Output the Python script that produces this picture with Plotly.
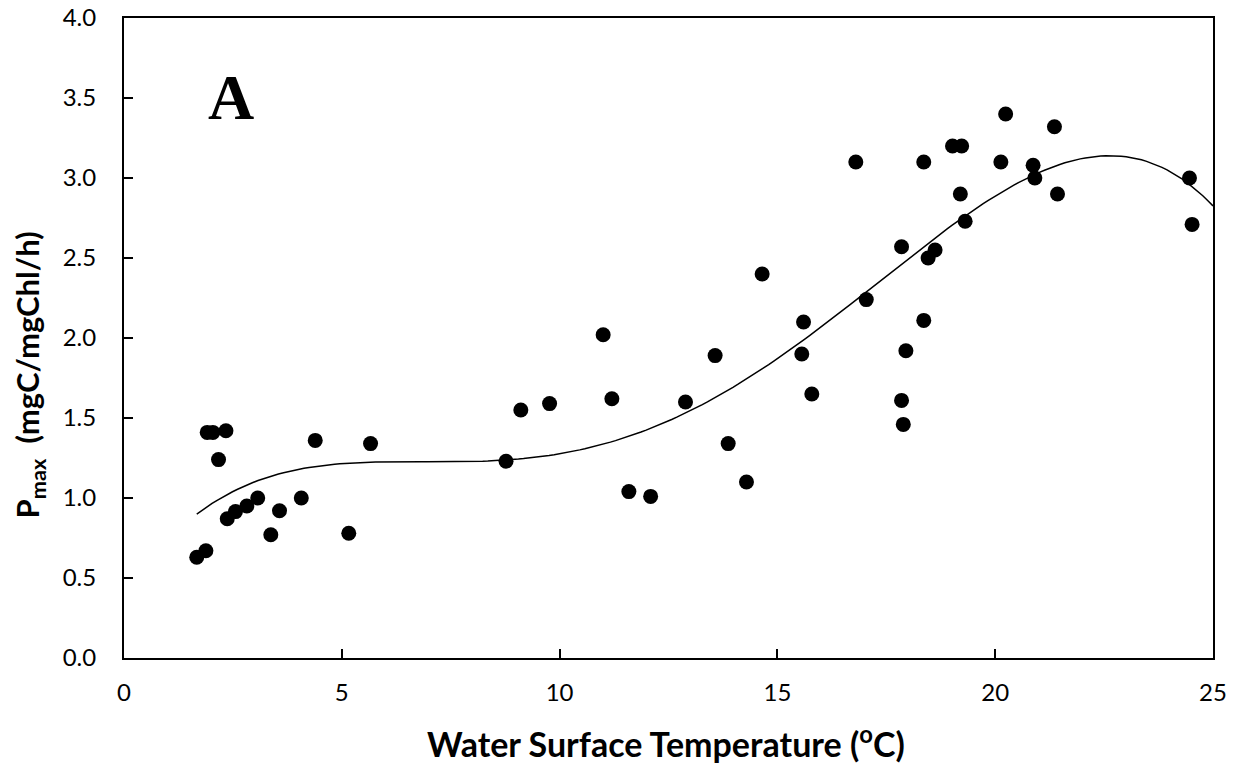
import numpy as np
import plotly.graph_objects as go

# water surface temperature (oC) and Pmax (mgC/mgChl/h)
temp = [1.67, 1.88, 1.91, 2.04, 2.34, 2.17, 2.37, 2.56, 2.82, 3.07, 3.37, 3.57,
        4.07, 4.39, 5.16, 5.66,
        8.77, 9.11, 9.77, 11.0, 11.2, 11.59, 12.09, 12.89, 13.57, 13.87, 14.29,
        14.65, 15.6, 15.56, 15.79,
        16.8, 17.04, 17.85, 17.85, 17.89, 17.95, 18.36, 18.36, 18.46, 18.62,
        19.02, 19.2, 19.23, 19.31, 20.13, 20.24, 20.87, 20.91, 21.36, 21.43,
        24.46, 24.52]
pmax = [0.63, 0.67, 1.41, 1.41, 1.42, 1.24, 0.87, 0.915, 0.95, 1.0, 0.77, 0.92,
        1.0, 1.36, 0.78, 1.34,
        1.23, 1.55, 1.59, 2.02, 1.62, 1.04, 1.01, 1.60, 1.89, 1.34, 1.10,
        2.40, 2.10, 1.90, 1.65,
        3.10, 2.24, 2.57, 1.61, 1.46, 1.92, 3.10, 2.11, 2.50, 2.55,
        3.20, 2.90, 3.20, 2.73, 3.10, 3.40, 3.08, 3.00, 3.32, 2.90,
        3.00, 2.71]

# polynomial trendline (4th order) fitted to the points
coef = np.polyfit(temp, pmax, 4)
xfit = np.linspace(min(temp), 25, 200)
yfit = np.polyval(coef, xfit)

fig = go.Figure()

fig.add_trace(
    go.Scatter(
        x=xfit,
        y=yfit,
        mode="lines",
        line=dict(color="black", width=1.5),
        hoverinfo="skip",
        showlegend=False,
    )
)

fig.add_trace(
    go.Scatter(
        x=temp,
        y=pmax,
        mode="markers",
        marker=dict(color="black", size=15),
        showlegend=False,
    )
)

# panel letter
fig.add_annotation(
    x=0.075, y=0.935, xref="paper", yref="paper",
    text="<b>A</b>", showarrow=False,
    font=dict(family="Liberation Serif", size=64, color="black"),
)

# axis titles as annotations so their positions can be matched
fig.add_annotation(
    x=-0.087, y=0.442, xref="paper", yref="paper",
    text="<b>P<sub>max</sub>  (mgC/mgChl/h)</b>", showarrow=False,
    textangle=-90, xanchor="center", yanchor="middle",
    font=dict(family="Lato", size=31, color="black"),
)
fig.add_annotation(
    x=0.4977, y=-0.131, xref="paper", yref="paper",
    text="<b>Water Surface Temperature (<sup>o</sup>C)</b>", showarrow=False,
    xanchor="center", yanchor="middle",
    font=dict(family="Lato", size=34, color="black"),
)

axis_common = dict(
    showgrid=False,
    zeroline=False,
    showline=True,
    linecolor="black",
    linewidth=2,
    mirror=True,
    ticks="inside",
    ticklen=9,
    tickwidth=1.5,
    tickcolor="black",
    automargin=False,
    ticklabeloverflow="allow",
    tickfont=dict(family="Lato", size=24, color="black"),
)

fig.update_xaxes(
    range=[0, 25],
    dtick=5,
    ticklabelstandoff=12,
    **axis_common,
)
fig.update_yaxes(
    range=[0, 4],
    dtick=0.5,
    tickformat=".1f",
    ticklabelstandoff=21,
    **axis_common,
)

fig.update_layout(
    width=1241,
    height=769,
    margin=dict(l=116, r=36, t=10, b=119),
    plot_bgcolor="white",
    paper_bgcolor="white",
)

fig.write_html("out.html")
